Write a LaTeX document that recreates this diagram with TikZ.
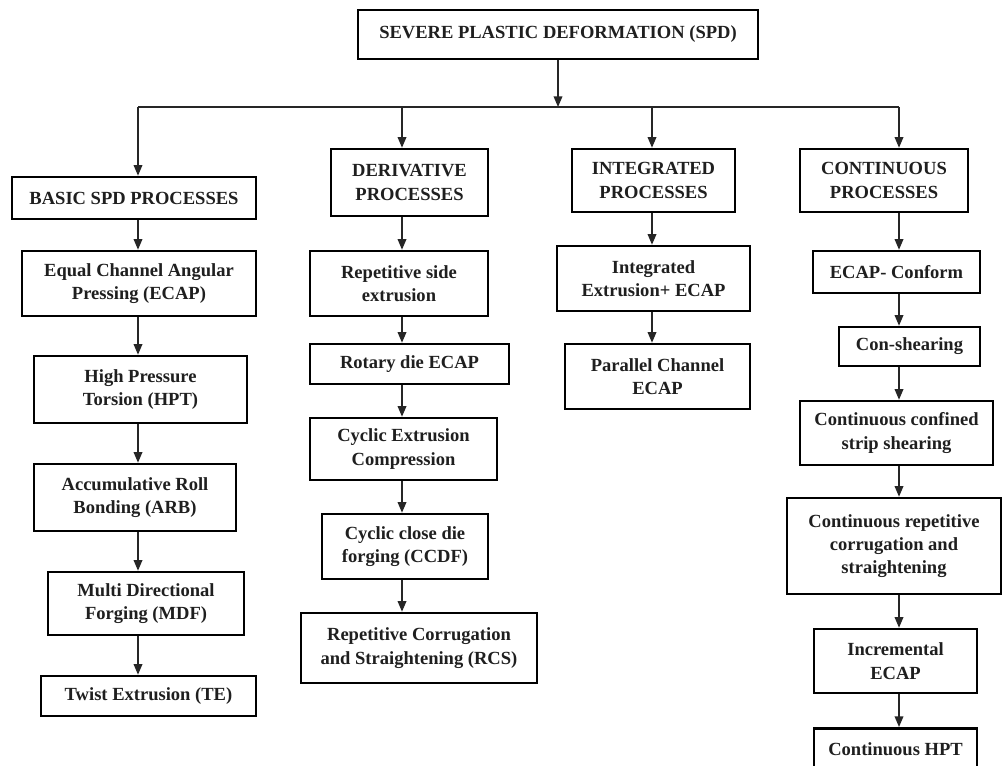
\documentclass[tikz,border=0pt]{standalone}
\usepackage{fontspec}
\setmainfont{Liberation Serif}
\usetikzlibrary{arrows.meta}
\begin{document}
\begin{tikzpicture}[x=0.75pt,y=-0.75pt,
  box/.style={draw=black, line width=1.9pt, inner sep=0pt, align=center,
    font=\bfseries\fontsize{13.9}{17.5}\selectfont, text=black!88},
  bw/.style={minimum width=#1*0.75pt},
  bh/.style={minimum height=#1*0.75pt},
  conn/.style={line width=1.1pt, draw=black!85},
  arr/.style={conn, -{Triangle[length=8pt,width=6.5pt]}}]
\clip (0,0) rectangle (1003,766);
\fill[white] (0,0) rectangle (1003,766);

% top
\node[box,bw=400,bh=49] (top) at (558,34.5) {SEVERE PLASTIC DEFORMATION (SPD)};
\coordinate (bus) at (558,107);
\coordinate (b1) at (138,107);
\coordinate (b2) at (402,107);
\coordinate (b3) at (652,107);
\coordinate (b4) at (899,107);

% category boxes
\node[box,bw=244,bh=42] (basic) at (134,198) {BASIC SPD PROCESSES};
\node[box,bw=157,bh=67] (deriv) at (409.5,182.5) {DERIVATIVE\\PROCESSES};
\node[box,bw=163,bh=63] (integ) at (653.5,180.5) {INTEGRATED\\PROCESSES};
\node[box,bw=168,bh=63] (cont) at (884,180.5) {CONTINUOUS\\PROCESSES};

% basic column
\node[box,bw=234,bh=65] (ecap) at (139,283.5) {Equal Channel Angular\\Pressing (ECAP)};
\node[box,bw=213,bh=67] (hpt) at (140.5,389.5) {High Pressure\\Torsion (HPT)};
\node[box,bw=202,bh=67] (arb) at (135,497.5) {Accumulative Roll\\Bonding (ARB)};
\node[box,bw=196,bh=63] (mdf) at (146,603.5) {Multi Directional\\Forging (MDF)};
\node[box,bw=215,bh=40] (te) at (148.5,696) {Twist Extrusion (TE)};

% derivative column
\node[box,bw=178,bh=65] (rse) at (399,283.5) {Repetitive side\\extrusion};
\node[box,bw=199,bh=40] (rot) at (409.5,364) {Rotary die ECAP};
\node[box,bw=187,bh=62] (cec) at (403.5,449) {Cyclic Extrusion\\Compression};
\node[box,bw=166,bh=65] (ccdf) at (405,546.5) {Cyclic close die\\forging (CCDF)};
\node[box,bw=236,bh=70] (rcs) at (419,648) {Repetitive Corrugation\\and Straightening (RCS)};

% integrated column
\node[box,bw=193,bh=65] (iee) at (653.5,278.5) {Integrated\\Extrusion+ ECAP};
\node[box,bw=185,bh=65] (pce) at (657.5,376.5) {Parallel Channel\\ECAP};

% continuous column
\node[box,bw=167,bh=42] (conf) at (896.5,272) {ECAP- Conform};
\node[box,bw=141,bh=39] (cons) at (909.5,346.5) {Con-shearing};
\node[box,bw=193,bh=64] (ccss) at (896.5,433) {Continuous confined\\strip shearing};
\node[box,bw=214,bh=96] (crcs) at (894,546) {Continuous repetitive\\corrugation and\\straightening};
\node[box,bw=163,bh=64] (incr) at (895.5,661) {Incremental\\ECAP};
\node[box,bw=163,bh=50,anchor=north] (chpt) at (895.5,727) {\raisebox{6pt}{Continuous HPT}};

% connectors
\draw[arr] (top) -- (bus);
\draw[conn] (b1) -- (b4);
\draw[arr] (b1) -- (basic.north -| b1);
\draw[arr] (b2) -- (deriv.north -| b2);
\draw[arr] (b3) -- (integ.north -| b3);
\draw[arr] (b4) -- (cont.north -| b4);

\draw[arr] (basic.south -| b1) -- (ecap.north -| b1);
\draw[arr] (ecap.south -| b1) -- (hpt.north -| b1);
\draw[arr] (hpt.south -| b1) -- (arb.north -| b1);
\draw[arr] (arb.south -| b1) -- (mdf.north -| b1);
\draw[arr] (mdf.south -| b1) -- (te.north -| b1);

\draw[arr] (deriv.south -| b2) -- (rse.north -| b2);
\draw[arr] (rse.south -| b2) -- (rot.north -| b2);
\draw[arr] (rot.south -| b2) -- (cec.north -| b2);
\draw[arr] (cec.south -| b2) -- (ccdf.north -| b2);
\draw[arr] (ccdf.south -| b2) -- (rcs.north -| b2);

\draw[arr] (integ.south -| b3) -- (iee.north -| b3);
\draw[arr] (iee.south -| b3) -- (pce.north -| b3);

\draw[arr] (cont.south -| b4) -- (conf.north -| b4);
\draw[arr] (conf.south -| b4) -- (cons.north -| b4);
\draw[arr] (cons.south -| b4) -- (ccss.north -| b4);
\draw[arr] (ccss.south -| b4) -- (crcs.north -| b4);
\draw[arr] (crcs.south -| b4) -- (incr.north -| b4);
\draw[arr] (incr.south -| b4) -- (chpt.north -| b4);
\end{tikzpicture}
\end{document}
